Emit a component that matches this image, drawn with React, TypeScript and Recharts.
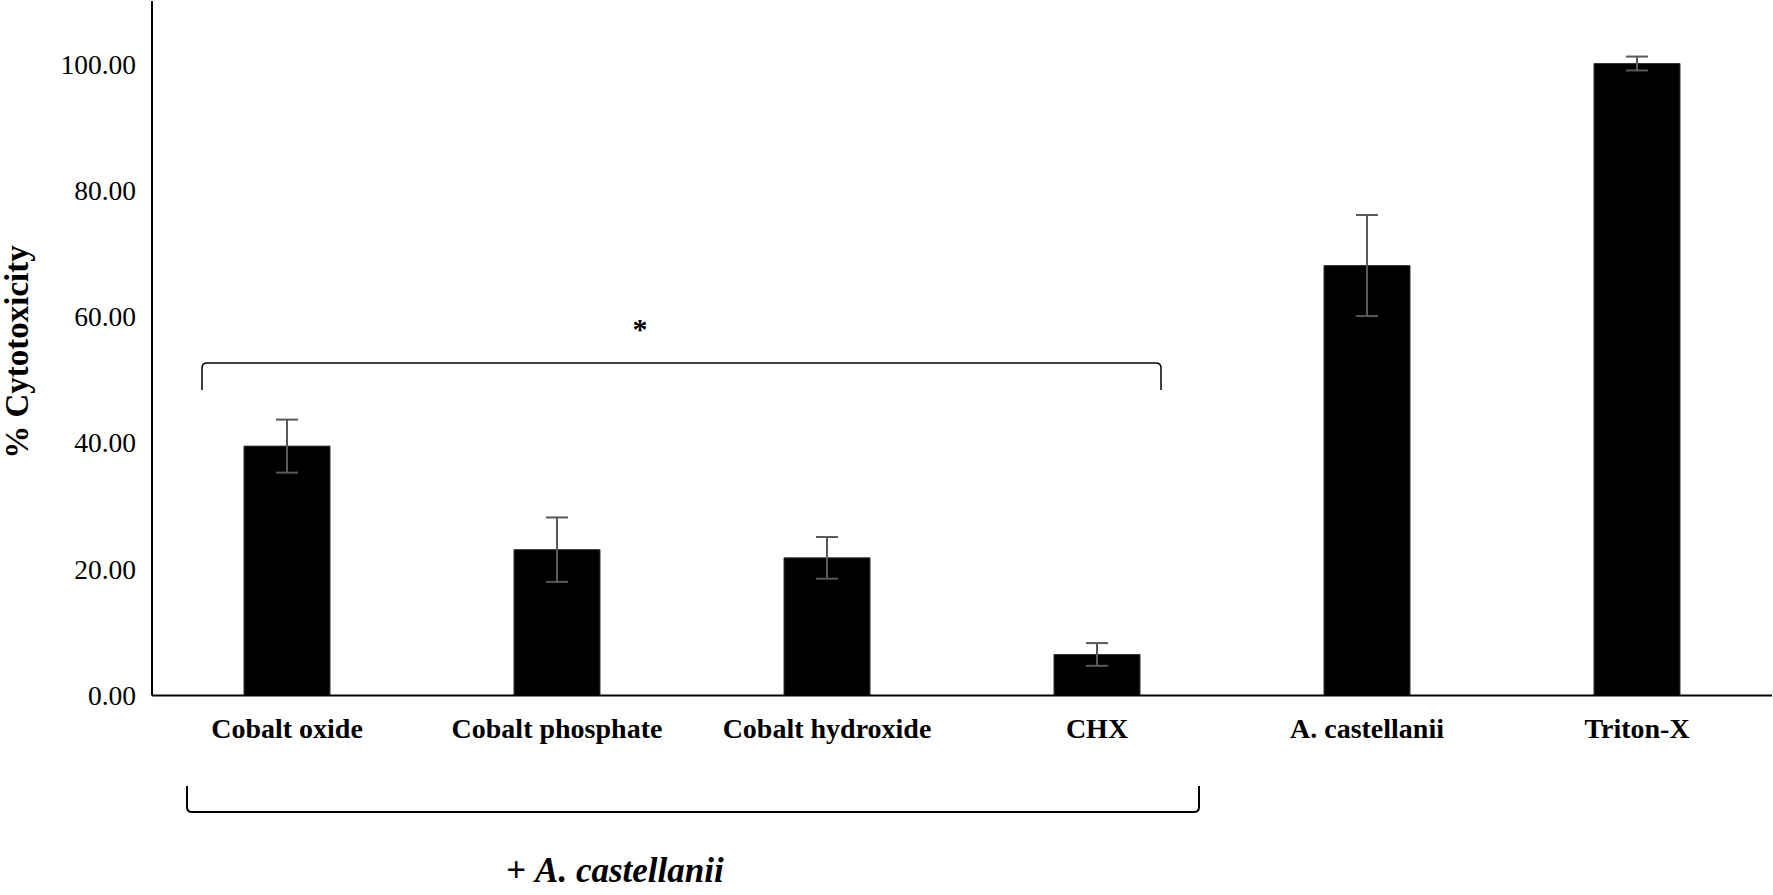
import React from 'react';
import { BarChart, Bar, XAxis, YAxis, ErrorBar } from 'recharts';

const categories = ['Cobalt oxide', 'Cobalt phosphate', 'Cobalt hydroxide', 'CHX', 'A. castellanii', 'Triton-X'];
const cytotoxicity = [39.5, 23.1, 21.8, 6.5, 68.1, 100.1];
const errors = [4.2, 5.1, 3.3, 1.8, 8.0, 1.1];
const yTicks = [0, 20, 40, 60, 80, 100];

const data = categories.map((name, i) => ({ name, value: cytotoxicity[i], err: errors[i] }));

const FONT = '"Liberation Serif", "Times New Roman", serif';

const YTick = (props: any) => {
  const { x, y, payload } = props;
  return (
    <text x={x - 16} y={y} textAnchor="end" dominantBaseline="central" fontFamily={FONT} fontSize={27.5} fill="#000">
      {Number(payload.value).toFixed(2)}
    </text>
  );
};

const XTick = (props: any) => {
  const { x, y, payload } = props;
  return (
    <text x={x} y={y + 42} textAnchor="middle" fontFamily={FONT} fontSize={28} fontWeight="bold" fill="#000">
      {payload.value}
    </text>
  );
};

export default function App() {
  return (
    <div style={{ position: 'absolute', left: 0, top: 0, width: 1773, height: 895, background: '#fff' }}>
      <BarChart
        width={1773}
        height={895}
        data={data}
        margin={{ top: 1, right: 1, left: 0, bottom: 0 }}
        barCategoryGap={0}
      >
        <YAxis
          width={152}
          domain={[0, 110]}
          ticks={yTicks}
          tickLine={false}
          tickSize={0}
          tickMargin={0}
          axisLine={{ stroke: '#000', strokeWidth: 2 }}
          tick={<YTick />}
          interval={0}
        />
        <XAxis
          dataKey="name"
          height={199.5}
          tickLine={false}
          tickSize={0}
          tickMargin={0}
          axisLine={{ stroke: '#000', strokeWidth: 2 }}
          tick={<XTick />}
          interval={0}
        />
        <Bar dataKey="value" fill="#000" stroke="#333" strokeWidth={1} barSize={86} isAnimationActive={false}>
          <ErrorBar dataKey="err" width={11} stroke="#595959" strokeWidth={2} isAnimationActive={false} />
        </Bar>
      </BarChart>
      <svg width={1773} height={895} style={{ position: 'absolute', left: 0, top: 0, pointerEvents: 'none' }}>
        <text
          x={28}
          y={352}
          transform="rotate(-90 28 352)"
          textAnchor="middle"
          fontFamily={FONT}
          fontSize={33}
          fontWeight="bold"
          fill="#000"
        >
          % Cytotoxicity
        </text>
        <path
          d="M 202 390 L 202 368 Q 202 363 207 363 L 1156 363 Q 1161 363 1161 368 L 1161 390"
          fill="none"
          stroke="#000"
          strokeWidth={1.5}
        />
        <text x={640} y={339} textAnchor="middle" fontFamily={FONT} fontSize={30} fontWeight="bold" fill="#000">
          *
        </text>
        <path
          d="M 187 786 L 187 807 Q 187 812 192 812 L 1194 812 Q 1199 812 1199 807 L 1199 786"
          fill="none"
          stroke="#000"
          strokeWidth={2}
        />
        <text x={615} y={882} textAnchor="middle" fontFamily={FONT} fontSize={35} fontWeight="bold" fill="#000">
          + <tspan fontStyle="italic">A. castellanii</tspan>
        </text>
      </svg>
    </div>
  );
}
